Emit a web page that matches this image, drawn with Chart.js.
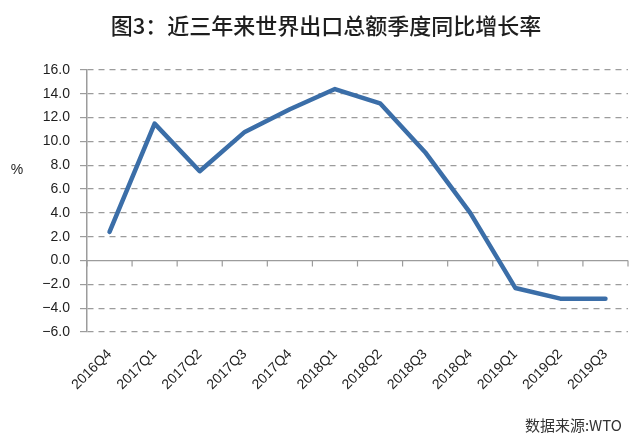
<!DOCTYPE html>
<html>
<head>
<meta charset="utf-8">
<script src="https://cdn.jsdelivr.net/npm/chart.js@4"></script>
<style>
  html, body { margin: 0; padding: 0; background: #fff; }
  #wrap { width: 640px; height: 445px; position: relative; }
</style>
</head>
<body>
<div id="wrap"><canvas id="growthChart"></canvas></div>
<script>
const quarters = ["2016Q4", "2017Q1", "2017Q2", "2017Q3", "2017Q4", "2018Q1",
                  "2018Q2", "2018Q3", "2018Q4", "2019Q1", "2019Q2", "2019Q3"];
const exportGrowth = [2.4, 11.5, 7.5, 10.8, 12.7, 14.4, 13.2, 9.1, 4.0, -2.3, -3.2, -3.2];
const yTicks = [-6, -4, -2, 0, 2, 4, 6, 8, 10, 12, 14, 16];

const titleText = "图3：近三年来世界出口总额季度同比增长率";
const sourceText = "数据来源:WTO";
const unitText = "%";

const GRID = "#9c9c9c";

// zero line with tick marks, plus title / unit / source text
const decor = {
  id: "decor",
  beforeDatasetsDraw(chart) {
    const { ctx, chartArea, scales: { x, y } } = chart;
    const y0 = y.getPixelForValue(0);
    ctx.save();
    ctx.strokeStyle = GRID;
    ctx.lineWidth = 1.2;
    ctx.beginPath();
    ctx.moveTo(chartArea.left, y0);
    ctx.lineTo(chartArea.right, y0);
    const half = (x.getPixelForValue(1) - x.getPixelForValue(0)) / 2;
    for (let i = 0; i <= quarters.length; i++) {
      const px = x.getPixelForValue(i) - half;
      ctx.moveTo(px, y0);
      ctx.lineTo(px, y0 + 6);
    }
    ctx.stroke();
    ctx.restore();
  },
  afterDraw(chart) {
    const { ctx } = chart;
    ctx.save();
    ctx.fillStyle = "#1e1e1e";
    ctx.textBaseline = "middle";
    ctx.textAlign = "center";
    ctx.font = "500 22px 'Noto Sans CJK SC', sans-serif";
    ctx.fillText(titleText, 326, 26);
    ctx.font = "14px 'Liberation Sans', Arial, sans-serif";
    ctx.fillText(unitText, 17, 170);
    ctx.textAlign = "right";
    ctx.fillStyle = "#333";
    ctx.font = "15px 'Noto Sans CJK SC', sans-serif";
    ctx.fillText(sourceText, 622, 425);
    ctx.restore();
  }
};

new Chart(document.getElementById("growthChart"), {
  type: "line",
  data: {
    labels: quarters,
    datasets: [{
      data: exportGrowth,
      borderColor: "#3b6ea8",
      borderWidth: 4.5,
      borderJoinStyle: "round",
      borderCapStyle: "round",
      pointRadius: 0,
      tension: 0,
      fill: false
    }]
  },
  options: {
    responsive: true,
    maintainAspectRatio: false,
    animation: false,
    layout: { padding: { top: 70, right: 12, left: 0, bottom: 0 } },
    plugins: { legend: { display: false }, tooltip: { enabled: false } },
    scales: {
      x: {
        offset: true,
        grid: { display: false, drawTicks: false },
        border: { display: false },
        afterFit: s => { s.height = 113; },
        ticks: {
          minRotation: 45,
          maxRotation: 45,
          padding: 14,
          color: "#1e1e1e",
          font: { family: "'Liberation Sans', Arial, sans-serif", size: 14 }
        }
      },
      y: {
        min: -6,
        max: 16,
        afterFit: s => { s.width = 87; },
        afterBuildTicks: s => { s.ticks = yTicks.map(v => ({ value: v })); },
        grid: {
          color: c => (c.tick && c.tick.value === 0) ? "rgba(0,0,0,0)" : GRID,
          lineWidth: 1.2,
          drawTicks: true,
          tickLength: 7,
          tickColor: GRID
        },
        border: { display: true, color: GRID, width: 1.5, dash: [6, 5] },
        ticks: {
          padding: 10,
          color: "#1e1e1e",
          font: { family: "'Liberation Sans', Arial, sans-serif", size: 14 },
          callback: v => (v < 0 ? "\u2212" + Math.abs(v).toFixed(1) : v.toFixed(1))
        }
      }
    }
  },
  plugins: [decor]
});
</script>
</body>
</html>
